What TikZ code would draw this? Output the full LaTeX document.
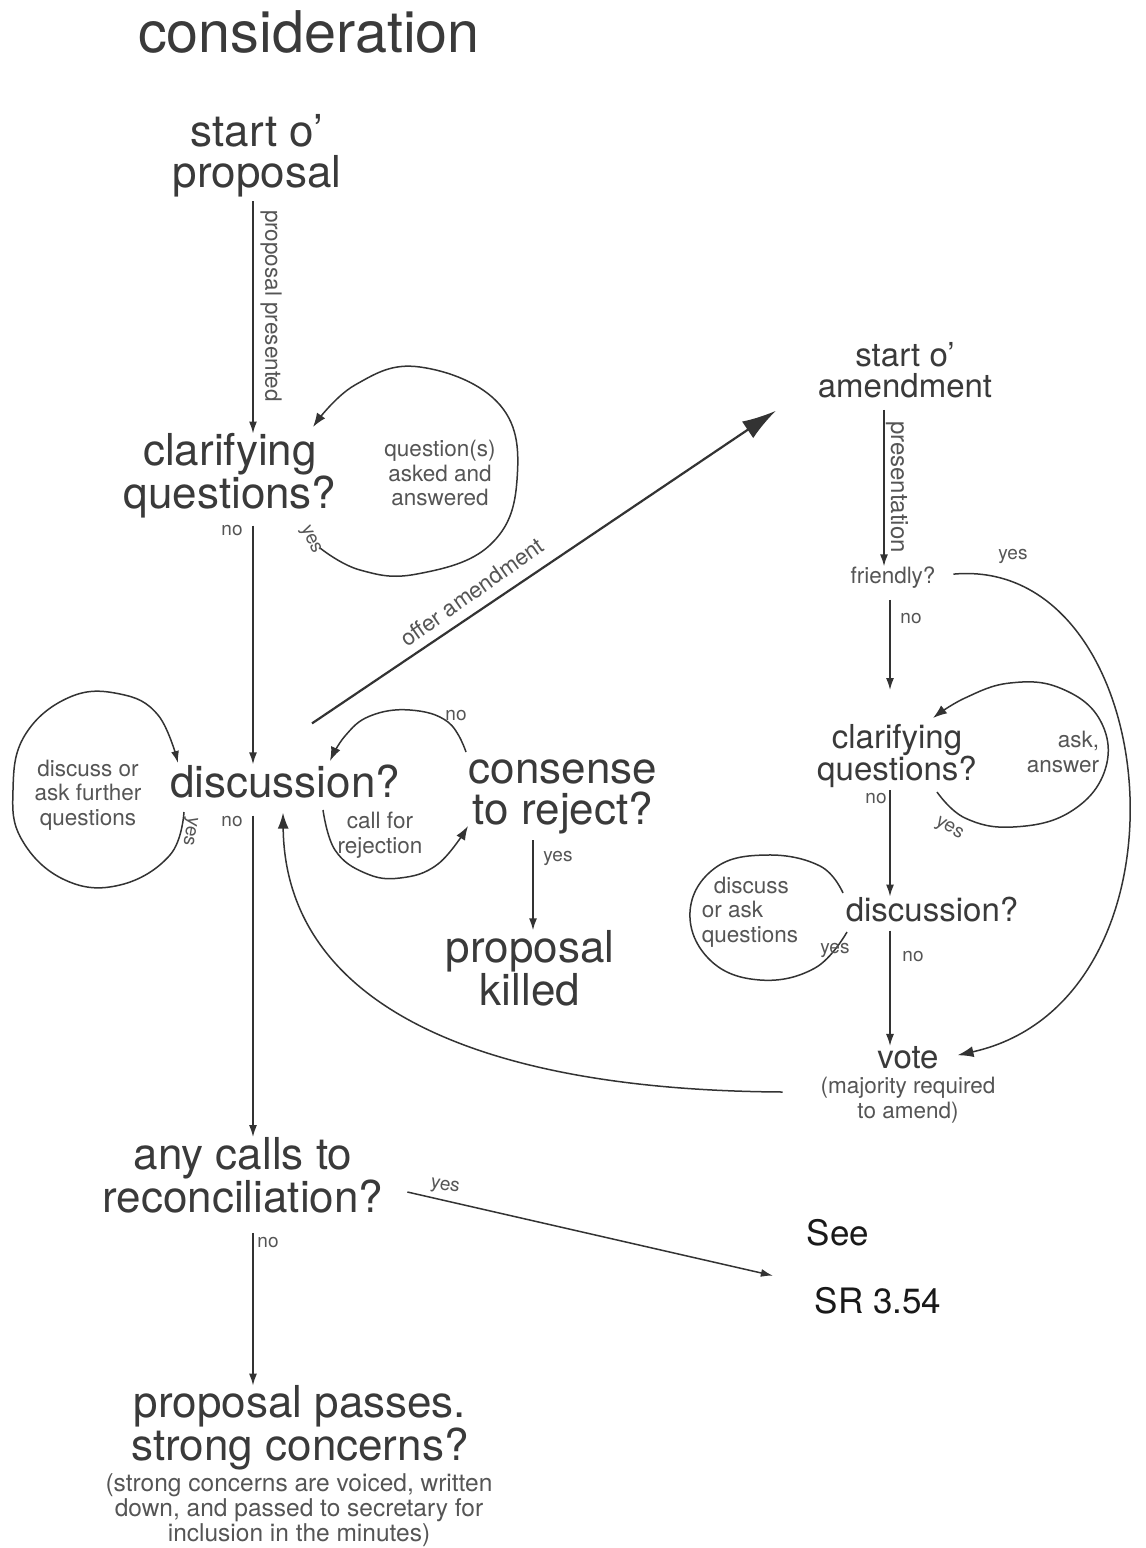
\documentclass[tikz,border=0pt]{standalone}
\usepackage{fontspec}
\setmainfont{TeX Gyre Heros}
\usetikzlibrary{arrows.meta,calc}
\definecolor{txt}{HTML}{3A3A3A}
\definecolor{lbl}{HTML}{555555}
\definecolor{ln}{HTML}{333333}
\begin{document}
\begin{tikzpicture}[x=1pt,y=-1pt,
  every node/.style={inner sep=0pt,outer sep=0pt},
  title/.style={font=\fontsize{57.5}{60}\selectfont,text=txt},
  big/.style={font=\fontsize{44}{41}\selectfont,text=txt,align=center},
  mid/.style={font=\fontsize{33}{31}\selectfont,text=txt,align=center},
  small/.style={font=\fontsize{22.5}{24.5}\selectfont,text=lbl,align=center},
  note/.style={font=\fontsize{24.5}{25}\selectfont,text=lbl,align=center},
  tiny/.style={font=\fontsize{19}{20}\selectfont,text=lbl},
  seetxt/.style={font=\fontsize{35}{36}\selectfont,text=black!90},
  conn/.style={draw=ln,line width=1.5pt},
  arr/.style={-{Latex[length=12pt,width=8pt]}},
  barr/.style={-{Latex[length=16pt,width=11pt]}},
  larr/.style={-{Latex[length=14pt,width=10pt]}},
  hugearr/.style={-{Latex[length=34pt,width=20pt]}}
]
\fill[white] (0,0) rectangle (1146,1548);
\useasboundingbox (0,0) rectangle (1146,1548);

% ---------- main nodes ----------
\node[title,anchor=base] (cons) at (309,52) {consideration};
\node[big] (startP) at (257,156) {start o’\\proposal};
\node[big] (clarP) at (230,476) {clarifying\\questions?};
\node[big,anchor=base] (disc) at (285,797) {discussion?};
\node[big] (consense) at (563,797) {consense\\to reject?};
\node[big] (killed) at (530,968) {proposal\\killed};
\node[big] (anycalls) at (243,1175) {any calls to\\reconciliation?};
\node[big] (passes) at (300,1428) {proposal passes.\\strong concerns?};
\node[note] (passnote) at (299,1510) {(strong concerns are voiced, written\\down, and passed to secretary for\\inclusion in the minutes)};

\node[mid] (startA) at (905,370) {start o’\\amendment};
\node[small,anchor=base] (friendly) at (893,583) {friendly?};
\node[mid] (clarA) at (897,756) {clarifying\\questions?};
\node[mid,anchor=base] (discA) at (932,921) {discussion?};
\node[mid,anchor=base] (vote) at (908,1068) {vote};
\node[small] (votenote) at (908,1100) {(majority required\\to amend)};
\node[seetxt,anchor=base] (see) at (838,1245) {See};
\node[seetxt,anchor=base] (sr) at (878,1313) {SR 3.54};

% ---------- loop texts ----------
\node[small] (qsa) at (440,473) {question(s)\\asked and\\answered};
\node[small] (dlq) at (88,795) {discuss or\\ask further\\questions};
\node[small] (cfr) at (380,835) {call for\\rejection};
\node[small,align=right] (aa) at (1063,752) {ask,\\answer};
\node[small,align=left] (dra) at (750,912) {\hspace*{12pt}discuss\\or ask\\questions};

% ---------- helper coordinates ----------
\coordinate (mx) at (253,0);
\coordinate (kx) at (533,0);
\coordinate (ax) at (884,0);
\coordinate (bx) at (890,0);

% ---------- straight connectors ----------
\draw[conn,arr,shorten <=4pt] (startP.south -| mx) -- (clarP.north -| mx);
\draw[conn,arr,shorten <=7pt] (clarP.south -| mx) -- (disc.north -| mx);
\draw[conn,arr,shorten <=18pt] (disc.south -| mx) -- (anycalls.north -| mx);
\draw[conn,arr,shorten <=20pt] (anycalls.south -| mx) -- (passes.north -| mx);
\draw[conn,arr,shorten <=6pt] (consense.south -| kx) -- (killed.north -| kx);
\draw[conn,arr,shorten <=12pt] (startA.south -| ax) -- (friendly.north -| ax);
\draw[conn,arr,shorten <=12pt,shorten >=34pt] (friendly.south -| bx) -- (clarA.north -| bx);
\draw[conn,arr,shorten <=2pt] (clarA.south -| bx) -- (discA.north -| bx);
\draw[conn,arr,shorten <=9pt] (discA.south -| bx) -- (vote.north -| bx);
\draw[conn,line width=2.2pt,hugearr] ($(disc.north)+(27,-41)$) -- ($(startA.south west)+(-42,13)$);
\draw[conn,arr] ($(anycalls.east)+(24,17)$) -- ($(see.south west)+(-34,30)$);

% ---------- curved connectors ----------
\draw[conn,barr] ($(votenote.west)+(-38,-8)$) .. controls (450,1090) and (285,990) .. ($(disc.south)+(-2,15)$);
\draw[conn,barr] ($(friendly.east)+(18,-3)$) .. controls (1165,555) and (1205,1000) .. ($(vote.east)+(19,-2)$);

% ---------- loops ----------
\coordinate (l1s) at (320,548);
\coordinate (l1e) at (313,427);
\draw[conn,larr] plot[smooth,tension=0.7] coordinates {(l1s) (360,570) (417,574) (490,545) (517,480) (500,405) (420,367) (355,385) (l1e)};

\coordinate (l2s) at (184,812);
\coordinate (l2e) at (178,763);
\draw[conn,arr] plot[smooth,tension=0.7] coordinates {(l2s) (170,855) (120,885) (65,880) (22,840) (13,790) (25,735) (70,697) (120,694) (158,715) (l2e)};

\coordinate (l3s) at (323,810);
\coordinate (l3e) at (468,826);
\draw[conn,larr] plot[smooth,tension=0.7] coordinates {(l3s) (335,850) (365,873) (400,878) (438,864) (l3e)};

\coordinate (l4s) at (466,752);
\coordinate (l4e) at (330,761);
\draw[conn,larr] plot[smooth,tension=0.7] coordinates {(l4s) (448,722) (410,710) (370,716) (345,736) (l4e)};

\coordinate (l5s) at (937,792);
\coordinate (l5e) at (933,718);
\draw[conn,larr] plot[smooth,tension=0.7] coordinates {(l5s) (965,818) (1013,827) (1070,812) (1105,770) (1100,720) (1060,688) (1010,683) (965,698) (l5e)};

\coordinate (l6s) at (843,893);
\coordinate (l6e) at (847,932);
\draw[conn] plot[smooth,tension=0.7] coordinates {(l6s) (820,866) (767,855) (715,868) (690,912) (710,960) (760,980) (815,968) (l6e)};

% ---------- edge labels ----------
\node[small,rotate=-90] (lpp) at (271,306) {proposal presented};
\node[tiny] (lno1) at (232,531) {no};
\node[tiny,rotate=-65] (lyes1) at (310,540) {yes};
\node[small,rotate=35] (loa) at (472,592) {offer amendment};
\node[tiny] (lno2) at (456,716) {no};
\node[tiny] (lyes2) at (558,858) {yes};
\node[tiny] (lno3) at (232,822) {no};
\node[tiny,rotate=-100] (lyes3) at (189,831) {yes};
\node[font=\fontsize{24}{25}\selectfont,text=lbl,rotate=-90] (lpres) at (897,487) {presentation};
\node[tiny] (lyes4) at (1013,556) {yes};
\node[tiny] (lno4) at (911,619) {no};
\node[tiny] (lno5) at (876,799) {no};
\node[tiny,rotate=-30] (lyes5) at (949,829) {yes};
\node[tiny] (lyes6) at (835,950) {yes};
\node[tiny] (lno6) at (913,957) {no};
\node[tiny] (lno7) at (268,1243) {no};
\node[tiny,rotate=-10] (lyes7) at (445,1187) {yes};
\end{tikzpicture}
\end{document}
